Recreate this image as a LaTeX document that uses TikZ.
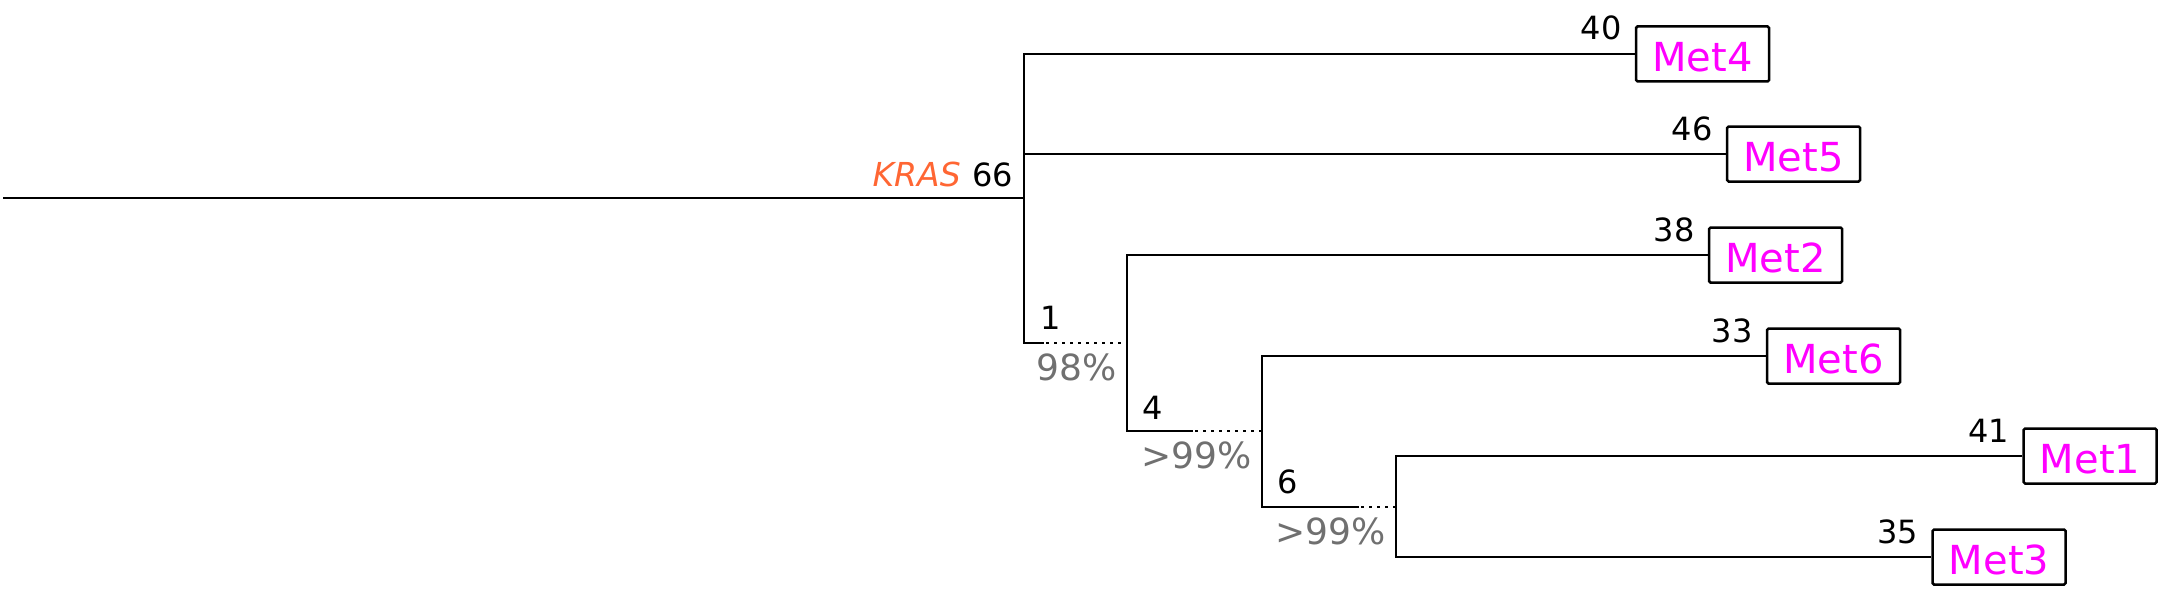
\documentclass[tikz,border=0pt]{standalone}
\usepackage{fontspec}
\setmainfont{DejaVu Sans}
\usetikzlibrary{calc}
\definecolor{metc}{RGB}{255,0,255}
\definecolor{krasc}{RGB}{255,102,51}
\definecolor{pctc}{RGB}{112,112,112}
\begin{document}
\begin{tikzpicture}[x=1pt,y=-1pt,
  br/.style={line width=2.5pt, line join=miter},
  dots/.style={line width=2.5pt, dash pattern=on 2.5pt off 5.5pt, dash phase=-2pt},
  metbox/.style={draw, line width=2.5pt, rounded corners=1.5pt, minimum width=133pt,
    minimum height=55pt, inner sep=0pt, text=metc, text height=34pt, text depth=0pt,
    font=\fontsize{40}{48}\selectfont},
  num/.style={inner sep=0pt, font=\fontsize{32}{38}\selectfont},
  pct/.style={inner sep=0pt, text=pctc, font=\fontsize{36}{42}\selectfont, anchor=north west}]
\useasboundingbox (0,0) rectangle (2161,610);
% leaves
\node[metbox] (m4) at (1702.5,54) {Met4};
\node[metbox] (m5) at (1793.5,154) {Met5};
\node[metbox] (m2) at (1775.5,255) {Met2};
\node[metbox] (m6) at (1833.5,356) {Met6};
\node[metbox] (m1) at (2090,456) {Met1};
\node[metbox] (m3) at (1999,557) {Met3};
% internal points
\coordinate (r) at (3,198);
\coordinate (a) at (1024,198);
\coordinate (n1) at (1024,343);
\coordinate (s1) at (1044,343);
\coordinate (n1e) at (1127,343);
\coordinate (n4) at (1127,431);
\coordinate (s4) at (1193,431);
\coordinate (n4e) at (1262,431);
\coordinate (n6) at (1262,507);
\coordinate (s6) at (1359,507);
\coordinate (n6e) at (1396,507);
\coordinate (c3) at (1396,557);
% branches
\draw[br] (r) -- (a);
\draw[br] (m4.west) -| (n1) -- (s1);
\draw[br] (m5.west) -- (m5.west -| n1);
\draw[dots] (s1) -- (n1e);
\draw[br] (m2.west) -| (n4) -- (s4);
\draw[dots] (s4) -- (n4e);
\draw[br] (m6.west) -| (n6) -- (s6);
\draw[dots] (s6) -- (n6e);
\draw[br] (m1.west) -| (c3) -- (m3.west);
% branch lengths
\node[num, anchor=base east] (l40) at ($(m4.west)+(-13,-14)$) {40};
\node[num, anchor=base east] (l46) at ($(m5.west)+(-13,-14)$) {46};
\node[num, anchor=base east] (l38) at ($(m2.west)+(-13,-14)$) {38};
\node[num, anchor=base east] (l33) at ($(m6.west)+(-13,-14)$) {33};
\node[num, anchor=base east] (l41) at ($(m1.west)+(-13,-14)$) {41};
\node[num, anchor=base east] (l35) at ($(m3.west)+(-13,-14)$) {35};
\node[num, anchor=base east] (l66) at ($(a)+(-11,-12)$) {66};
\node[num, anchor=base east, text=krasc, font=\fontsize{33}{38}\selectfont\itshape] (kras) at ($(l66.base west)+(-11,0)$) {KRAS};
\node[num, anchor=base west] (l1) at ($(n1)+(16,-14)$) {1};
\node[num, anchor=base west] (l4) at ($(n4)+(15,-12)$) {4};
\node[num, anchor=base west] (l6) at ($(n6)+(15,-14)$) {6};
% support values
\node[pct] (p1) at ($(n1)+(12,11)$) {98\%};
\node[pct] (p4) at ($(n4)+(14,11)$) {>99\%};
\node[pct] (p6) at ($(n6)+(13,11)$) {>99\%};
\end{tikzpicture}
\end{document}
